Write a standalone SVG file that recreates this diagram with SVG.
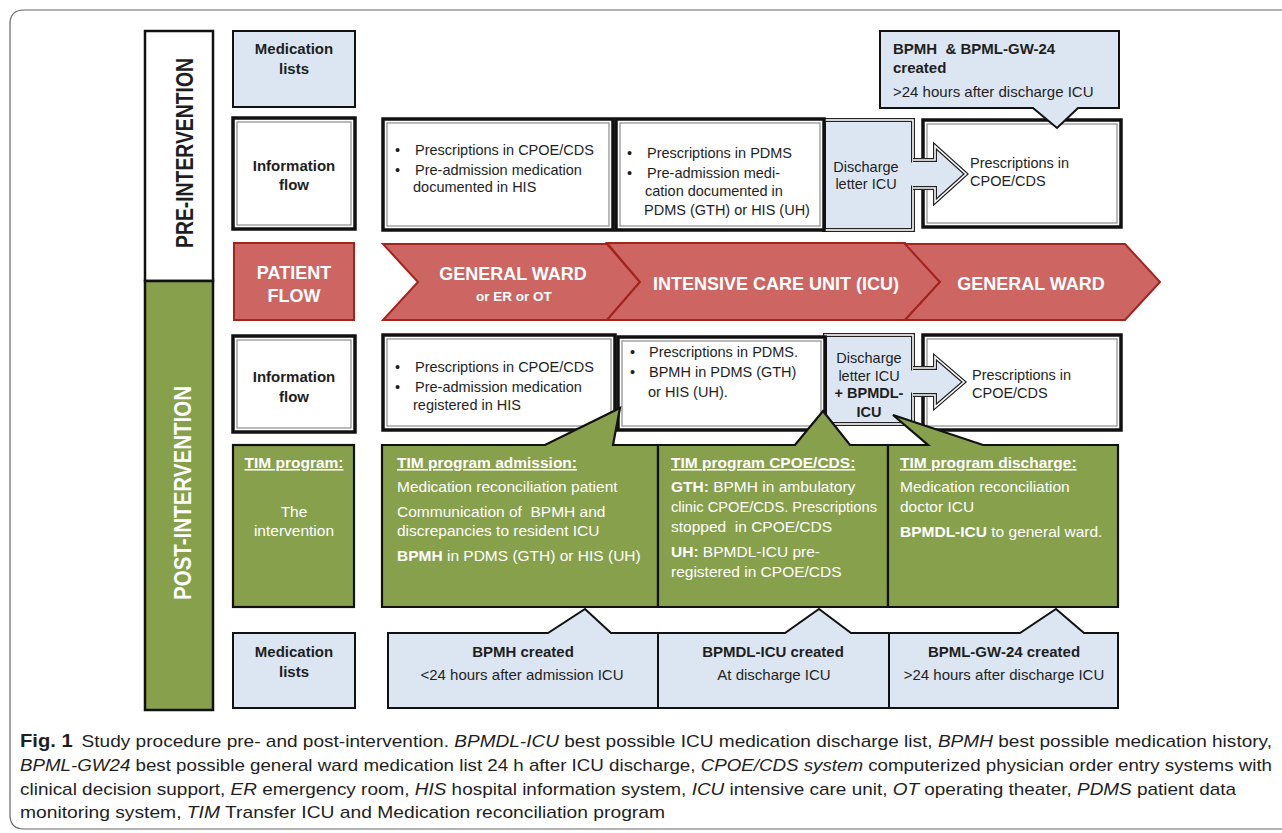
<svg xmlns="http://www.w3.org/2000/svg" width="1282" height="833" viewBox="0 0 1282 833">
<defs>
<style>
text{font-family:"Liberation Sans",Arial,sans-serif;fill:#1e1e1e}
.s14{font-size:14.5px}
.s15{font-size:15px}
.s155{font-size:15.5px}
.b{font-weight:bold}
.w{fill:#fff}
.mid{text-anchor:middle}
.u{text-decoration:underline}
.blue{fill:#dce6f2;stroke:#111;stroke-width:2}
.green{fill:#87a04c;stroke:#111;stroke-width:2.2}
.red{fill:#cd6662;stroke:#a3231f;stroke-width:2}
.ob{fill:#fff;stroke:#111;stroke-width:3.5}
.ib{fill:none;stroke:#8c8c8c;stroke-width:1.2}
.do{fill:#dce6f2;stroke:#222;stroke-width:4}
.di{fill:none;stroke:#fff;stroke-width:1.6}
</style>
</defs>
<rect x="0" y="0" width="1282" height="833" fill="#fff"/>
<path d="M1282,10 H24 Q10,10 10,24 V815 Q10,829 24,829 H1282" fill="none" stroke="#666" stroke-width="1.2"/>

<g id="phase-column">
<rect x="145" y="31" width="68" height="250" fill="#fff" stroke="#111" stroke-width="2.5"/>
<rect x="145" y="281" width="68" height="429" fill="#87a04c" stroke="#111" stroke-width="2.5"/>
<text transform="translate(193,153) rotate(-90)" class="b mid" font-size="24" textLength="190" lengthAdjust="spacingAndGlyphs">PRE-INTERVENTION</text>
<text transform="translate(191,493) rotate(-90)" class="b mid w" font-size="24" textLength="214" lengthAdjust="spacingAndGlyphs">POST-INTERVENTION</text>
</g>

<g id="label-medlists-pre">
<rect x="233" y="31" width="122" height="76" class="blue"/>
<text x="294" y="54" class="s15 b mid">Medication</text>
<text x="294" y="74" class="s15 b mid">lists</text>
</g>
<g id="label-infoflow-pre">
<rect x="233" y="118" width="122" height="111" class="ob"/>
<rect x="237" y="122" width="114" height="103" class="ib"/>
<text x="294" y="171" class="s15 b mid">Information</text>
<text x="294" y="190" class="s15 b mid">flow</text>
</g>
<g id="label-patientflow">
<rect x="234" y="243" width="120" height="77" class="red"/>
<text x="294" y="279" font-size="18" class="b mid w">PATIENT</text>
<text x="294" y="302" font-size="18" class="b mid w">FLOW</text>
</g>

<g id="pre-gw-after">
<rect x="923" y="120" width="198" height="107" class="ob"/>
<rect x="927" y="124" width="190" height="99" class="ib"/>
<text x="970" y="168" class="s14">Prescriptions in</text>
<text x="970" y="186" class="s14">CPOE/CDS</text>
</g>
<g id="pre-discharge">
<rect x="824" y="120" width="89" height="110" class="do"/>
<rect x="824" y="120" width="89" height="110" class="di"/>
<text x="866" y="172" class="s14 mid">Discharge</text>
<text x="866" y="189" class="s14 mid">letter ICU</text>
</g>
<g id="pre-icu">
<rect x="616" y="119" width="208" height="111" class="ob"/>
<rect x="620" y="123" width="200" height="103" class="ib"/>
<text x="627" y="158" class="s14">•</text><text x="647" y="158" class="s14">Prescriptions in PDMS</text>
<text x="627" y="178" class="s14">•</text><text x="647" y="178" class="s14">Pre-admission medi-</text>
<text x="645" y="196" class="s14">cation documented in</text>
<text x="644" y="215" class="s14">PDMS (GTH) or HIS (UH)</text>
</g>
<g id="pre-gw-before">
<rect x="383" y="119" width="230" height="111" class="ob"/>
<rect x="387" y="123" width="222" height="103" class="ib"/>
<text x="395" y="155" class="s14">•</text><text x="415" y="155" class="s14">Prescriptions in CPOE/CDS</text>
<text x="395" y="175" class="s14">•</text><text x="415" y="175" class="s14">Pre-admission medication</text>
<text x="413" y="192" class="s14">documented in HIS</text>
</g>
<g id="pre-medlist-callout">
<path d="M880,31 H1119 V108 H1078 L1057,128 L1033,108 H880 Z" class="blue"/>
<text x="893" y="54" class="s15 b" xml:space="preserve">BPMH  &amp; BPML-GW-24</text>
<text x="893" y="73" class="s15 b">created</text>
<text x="893" y="97" class="s15">&gt;24 hours after discharge ICU</text>
</g>

<g id="patient-flow">
<polygon points="383,244 607,244 640,282 607,320 383,320 418,282" class="red"/>
<polygon points="607,243 905,243 940,282 905,320 607,320 640,282" class="red"/>
<polygon points="905,244 1125,244 1160,282 1125,320 905,320 940,282" class="red"/>
<text x="513" y="280" font-size="18" class="b mid w">GENERAL WARD</text>
<text x="514" y="301" font-size="13.5" class="b mid w">or ER or OT</text>
<text x="776" y="290" font-size="18" class="b mid w">INTENSIVE CARE UNIT (ICU)</text>
<text x="1031" y="290" font-size="18" class="b mid w">GENERAL WARD</text>
</g>

<g id="label-infoflow-post">
<rect x="233" y="336" width="122" height="96" class="ob"/>
<rect x="237" y="340" width="114" height="88" class="ib"/>
<text x="294" y="382" class="s15 b mid">Information</text>
<text x="294" y="402" class="s15 b mid">flow</text>
</g>
<g id="post-gw-after">
<rect x="923" y="335" width="198" height="95" class="ob"/>
<rect x="927" y="339" width="190" height="87" class="ib"/>
<text x="972" y="380" class="s14">Prescriptions in</text>
<text x="972" y="398" class="s14">CPOE/CDS</text>
</g>
<g id="post-discharge">
<rect x="825" y="335" width="88" height="89" class="do"/>
<rect x="825" y="335" width="88" height="89" class="di"/>
<text x="869" y="363" class="s14 mid">Discharge</text>
<text x="869" y="381" class="s14 mid">letter ICU</text>
<text x="869" y="398" class="s14 b mid">+ BPMDL-</text>
<text x="869" y="417" class="s14 b mid">ICU</text>
</g>
<g id="post-icu">
<rect x="618" y="337" width="207" height="93" class="ob"/>
<rect x="622" y="341" width="199" height="85" class="ib"/>
<text x="630" y="357" class="s14">•</text><text x="649" y="357" class="s14">Prescriptions in PDMS.</text>
<text x="630" y="377" class="s14">•</text><text x="649" y="377" class="s14">BPMH in PDMS (GTH)</text>
<text x="648" y="397" class="s14">or HIS (UH).</text>
</g>
<g id="post-gw-before">
<rect x="383" y="335" width="232" height="95" class="ob"/>
<rect x="387" y="339" width="224" height="87" class="ib"/>
<text x="395" y="372" class="s14">•</text><text x="415" y="372" class="s14">Prescriptions in CPOE/CDS</text>
<text x="395" y="392" class="s14">•</text><text x="415" y="392" class="s14">Pre-admission medication</text>
<text x="413" y="410" class="s14">registered in HIS</text>
</g>

<g id="tim-program">
<rect x="233" y="445" width="121" height="162" class="green"/>
<text x="294" y="468" class="s155 b mid w u">TIM program:</text>
<text x="294" y="517" class="s155 mid w">The</text>
<text x="294" y="536" class="s155 mid w">intervention</text>
</g>
<g id="tim-admission">
<path d="M382,445 H545 L620,408 L613,445 H658 V607 H382 Z" class="green"/>
<text x="397" y="468" class="s155 b w u">TIM program admission:</text>
<text x="397" y="492" class="s155 w">Medication reconciliation patient</text>
<text x="397" y="517" class="s155 w" xml:space="preserve">Communication of  BPMH and</text>
<text x="397" y="536" class="s155 w">discrepancies to resident ICU</text>
<text x="397" y="561" class="s155 w"><tspan class="b w">BPMH</tspan> in PDMS (GTH) or HIS (UH)</text>
</g>
<g id="tim-cpoe">
<path d="M658,445 H795 L823,411 L850,445 H888 V607 H658 Z" class="green"/>
<text x="671" y="468" class="s155 b w u">TIM program CPOE/CDS:</text>
<text x="671" y="492" class="s155 w"><tspan class="b w">GTH:</tspan> BPMH in ambulatory</text>
<text x="671" y="512" class="s155 w" textLength="206" lengthAdjust="spacingAndGlyphs">clinic CPOE/CDS. Prescriptions</text>
<text x="671" y="532" class="s155 w" xml:space="preserve">stopped  in CPOE/CDS</text>
<text x="671" y="557" class="s155 w"><tspan class="b w">UH:</tspan> BPMDL-ICU pre-</text>
<text x="671" y="577" class="s155 w">registered in CPOE/CDS</text>
</g>
<g id="tim-discharge">
<path d="M888,445 H928 L893,415 L983,445 H1118 V607 H888 Z" class="green"/>
<text x="900" y="468" class="s155 b w u">TIM program discharge:</text>
<text x="900" y="492" class="s155 w">Medication reconciliation</text>
<text x="900" y="512" class="s155 w">doctor ICU</text>
<text x="900" y="537" class="s155 w"><tspan class="b w">BPMDL-ICU</tspan> to general ward.</text>
</g>

<g id="label-medlists-post">
<rect x="233" y="633" width="122" height="75" class="blue"/>
<text x="294" y="657" class="s15 b mid">Medication</text>
<text x="294" y="677" class="s15 b mid">lists</text>
</g>
<g id="list-bpmh">
<path d="M388,633 H548 L585,609 L611,633 H658 V708 H388 Z" class="blue"/>
<text x="523" y="657" class="s15 b mid">BPMH created</text>
<text x="522" y="680" class="s15 mid">&lt;24 hours after admission ICU</text>
</g>
<g id="list-bpmdl">
<path d="M658,633 H785 L819,609 L851,633 H889 V708 H658 Z" class="blue"/>
<text x="773" y="657" class="s15 b mid">BPMDL-ICU created</text>
<text x="774" y="680" class="s15 mid">At discharge ICU</text>
</g>
<g id="list-bpml">
<path d="M889,633 H1020 L1056,609 L1084,633 H1118 V708 H889 Z" class="blue"/>
<text x="1004" y="657" class="s15 b mid">BPML-GW-24 created</text>
<text x="1004" y="680" class="s15 mid">&gt;24 hours after discharge ICU</text>
</g>

<g id="connectors">
<path d="M913,160 H935 V146 L966,174 L935,202 V188 H913" class="do"/>
<path d="M913,160 H935 V146 L966,174 L935,202 V188 H913" class="di"/>
<rect x="909" y="162.5" width="8" height="23" fill="#dce6f2"/>
<path d="M913,368 H935 V357 L964,382 L935,407 V395 H913" class="do"/>
<path d="M913,368 H935 V357 L964,382 L935,407 V395 H913" class="di"/>
<rect x="909" y="370.5" width="8" height="22" fill="#dce6f2"/>
</g>

<g id="caption">
<text x="20" y="747" font-size="17" textLength="1252" lengthAdjust="spacingAndGlyphs"><tspan font-weight="bold" font-size="18">Fig. 1</tspan><tspan dx="8">Study procedure pre- and post-intervention. </tspan><tspan font-style="italic">BPMDL-ICU</tspan> best possible ICU medication discharge list, <tspan font-style="italic">BPMH</tspan> best possible medication history,</text>
<text x="20" y="771" font-size="17" textLength="1252" lengthAdjust="spacingAndGlyphs"><tspan font-style="italic">BPML-GW24</tspan> best possible general ward medication list 24 h after ICU discharge, <tspan font-style="italic">CPOE/CDS system</tspan> computerized physician order entry systems with</text>
<text x="20" y="795" font-size="17" textLength="1216" lengthAdjust="spacingAndGlyphs">clinical decision support, <tspan font-style="italic">ER</tspan> emergency room, <tspan font-style="italic">HIS</tspan> hospital information system, <tspan font-style="italic">ICU</tspan> intensive care unit, <tspan font-style="italic">OT</tspan> operating theater, <tspan font-style="italic">PDMS</tspan> patient data</text>
<text x="20" y="818" font-size="17" textLength="645" lengthAdjust="spacingAndGlyphs">monitoring system, <tspan font-style="italic">TIM</tspan> Transfer ICU and Medication reconciliation program</text>
</g>
</svg>
